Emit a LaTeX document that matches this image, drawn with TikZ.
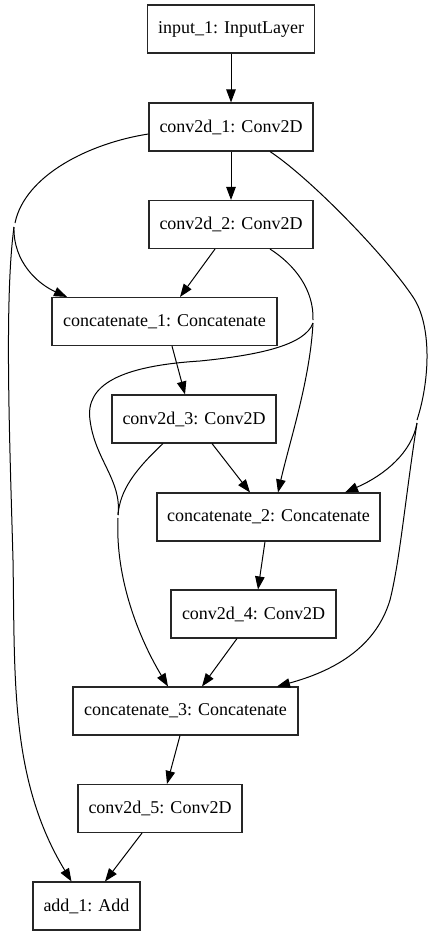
\documentclass[tikz,border=0pt]{standalone}
\usepackage{fontspec}
\setmainfont{Liberation Serif}
\usetikzlibrary{arrows.meta}
\begin{document}
\begin{tikzpicture}[x=1pt,y=-1pt,
  layer/.style={draw=black!85,line width=1.1pt,minimum height=48pt,inner sep=0pt,font=\fontsize{18}{20}\selectfont},
  edge/.style={line width=1pt,-{Triangle[length=13pt,width=9.5pt]}},
  seg/.style={line width=1pt}]
\useasboundingbox[fill=white] (0,0) rectangle (433,936);
\node[layer,minimum width=167pt] (in1) at (231,29) {input\_1: InputLayer};
\node[layer,minimum width=164pt] (conv1) at (231,127) {conv2d\_1: Conv2D};
\node[layer,minimum width=164pt] (conv2) at (231,224.5) {conv2d\_2: Conv2D};
\node[layer,minimum width=225pt] (cat1) at (164.5,321.5) {concatenate\_1: Concatenate};
\node[layer,minimum width=164pt] (conv3) at (194,419) {conv2d\_3: Conv2D};
\node[layer,minimum width=223pt] (cat2) at (268.5,517) {concatenate\_2: Concatenate};
\node[layer,minimum width=165pt] (conv4) at (253.5,614) {conv2d\_4: Conv2D};
\node[layer,minimum width=225pt] (cat3) at (185.5,711) {concatenate\_3: Concatenate};
\node[layer,minimum width=164pt] (conv5) at (160,808.5) {conv2d\_5: Conv2D};
\node[layer,minimum width=107pt] (add) at (86.5,906) {add\_1: Add};

\coordinate (g1a) at (15,223);
\coordinate (g1b) at (14,227);
\coordinate (g2a) at (417,420);
\coordinate (g2b) at (417,423);
\coordinate (g3a) at (313,320);
\coordinate (g3b) at (313,323);
\coordinate (g4a) at (118,515);
\coordinate (g4b) at (118,518);

% straight edges
\draw[edge] (in1.south) -- (conv1.north);
\draw[edge] (conv1.south) -- (conv2.north);
\draw[edge] ([shift={(-16,0)}]conv2.south) -- ([shift={(15.5,0)}]cat1.north);
\draw[edge] ([shift={(7.5,0)}]cat1.south) -- ([shift={(-9,0)}]conv3.north);
\draw[edge] ([shift={(18,0)}]conv3.south) -- ([shift={(-18.5,0)}]cat2.north);
\draw[edge] ([shift={(-3.5,0)}]cat2.south) -- ([shift={(4.5,0)}]conv4.north);
\draw[edge] ([shift={(-16.5,0)}]conv4.south) -- ([shift={(16.5,0)}]cat3.north);
\draw[edge] ([shift={(-5.5,0)}]cat3.south) -- ([shift={(7,0)}]conv5.north);
\draw[edge] ([shift={(-18,0)}]conv5.south) -- ([shift={(18.5,0)}]add.north);

% conv2d_1 -> concatenate_1 and add_1
\draw[seg] ([shift={(0,7)}]conv1.west) .. controls (90,143) and (25,175) .. (g1a);
\draw[edge] (g1b) .. controls (13,262) and (38,284) .. ([shift={(-97.5,0)}]cat1.north);
\draw[edge] (g1b) .. controls (4,300) and (10,450) .. (13,560) .. controls (15,680) and (10,780) .. ([shift={(-15,0)}]add.north);

% conv2d_1 -> concatenate_2 and concatenate_3
\draw[seg] ([shift={(39,0)}]conv1.south) .. controls (310,178) and (385,255) .. (413,297) .. controls (432,325) and (430,380) .. (g2a);
\draw[edge] (g2b) .. controls (412,452) and (385,475) .. ([shift={(76.5,0)}]cat2.north);
\draw[edge] (g2b) .. controls (405,500) and (400,560) .. (390,600) .. controls (375,650) and (330,672) .. ([shift={(91.5,0)}]cat3.north);

% conv2d_2 -> concatenate_2 and concatenate_3
\draw[seg] ([shift={(39,0)}]conv2.south) .. controls (295,265) and (314,290) .. (g3a);
\draw[edge] (g3b) .. controls (310,380) and (290,440) .. ([shift={(9.5,0)}]cat2.north);
\draw[seg] (g3b) .. controls (305,345) and (260,355) .. (200,361) .. controls (120,366) and (85,385) .. (90,420) .. controls (95,460) and (122,480) .. (g4a);

% conv2d_3 -> concatenate_3
\draw[seg] ([shift={(-31,0)}]conv3.south) .. controls (135,470) and (120,490) .. (g4a);
\draw[edge] (g4b) .. controls (115,580) and (140,640) .. ([shift={(-17.5,0)}]cat3.north);
\end{tikzpicture}
\end{document}
